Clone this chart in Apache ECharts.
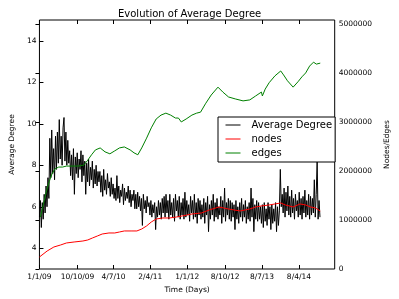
<!DOCTYPE html>
<html>
<head>
<meta charset="utf-8">
<script src="https://cdn.jsdelivr.net/npm/echarts@6/dist/echarts.min.js"></script>
<style>html,body{margin:0;padding:0;background:#fff;}#c{width:399px;height:299px;}</style>
</head>
<body>
<div id="c"></div>
<script>
// X axis ticks (days since 1/1/09) and labels
const xTickDays = [0, 282, 549, 821, 1095, 1376, 1649, 1923];
const xTickLabels = ['1/1/09', '10/10/09', '4/7/10', '2/4/11', '1/1/12', '8/10/12', '8/7/13', '8/4/14'];
const leftTicks = [4, 6, 8, 10, 12, 14];
const rightTicks = [0, 1000000, 2000000, 3000000, 4000000, 5000000];

// Average degree, sampled every 7 days from day 0
const avgStepDays = 7;
const avgDegree = [
  5.5, 6.3, 5.0, 6.2, 5.4,
  6.6, 5.7, 7.0, 6.0, 7.4, 6.4,
  9.3, 7.4, 9.7, 7.6, 8.8, 7.3, 9.4, 7.8,
  9.6, 8.1, 10.2, 8.3, 9.4, 8.0, 9.8, 10.3, 8.2, 9.6, 8.0, 9.2,
  8.1, 8.7, 7.5, 8.5, 7.3, 8.8, 6.6, 8.4, 7.6, 8.6, 7.4, 8.3, 7.8, 8.7, 7.2, 8.5, 7.5, 8.2,
  6.6, 8.1, 7.2, 8.3, 7.0, 7.9, 7.3, 8.2, 6.9, 7.8, 7.1, 8.0, 7.0, 7.7, 7.2,
  7.7, 6.7, 7.5, 6.5, 7.8, 6.8, 7.3, 6.6, 7.6, 6.9, 7.2, 6.5, 7.4, 6.6, 7.1, 6.4,
  6.9, 6.3, 7.5, 6.4, 7.0, 6.2, 6.8, 6.5, 7.1, 6.1, 6.9, 6.3, 6.7, 6.4, 7.0, 6.2, 6.8, 6.0, 6.6, 6.3, 6.8,
  5.9, 6.6, 5.9, 6.7, 6.0, 6.5, 5.8, 6.4, 5.1, 6.6, 5.9, 6.3, 5.7, 6.5, 6.0, 6.2,
  5.6, 6.3, 5.5, 6.1, 5.7, 6.2, 4.9, 6.0, 5.5, 6.3, 5.6, 6.2, 5.4, 6.4, 5.7,
  6.5, 5.5, 6.6, 5.7, 6.3, 5.4, 6.6, 5.6, 6.2, 5.5, 6.4, 5.3, 6.6, 5.8, 6.3, 5.5, 6.5, 5.4, 6.2, 5.6,
  6.4, 5.4, 6.7, 5.5, 6.3, 5.6, 6.1, 5.3, 6.5, 5.7, 6.3, 5.4, 6.6, 5.5, 6.2, 5.2, 6.4, 5.6, 6.3, 5.4, 6.1,
  5.5, 6.4, 5.2, 6.2, 5.6, 6.5, 4.8, 6.1, 5.4, 6.3, 5.6, 6.6, 5.3, 6.2, 5.5, 6.4, 5.4, 6.0, 5.6, 6.5,
  5.2, 6.3, 5.5, 6.9, 5.3, 6.2, 5.6, 6.4, 5.4, 6.3,
  5.3, 6.2, 5.5, 6.1, 4.9, 6.3, 5.4, 6.0, 5.2, 6.2, 5.5, 6.4, 5.3, 6.1, 5.5, 6.3, 5.2, 6.0, 5.4, 6.2,
  5.3, 6.9, 5.5, 6.4, 4.8, 6.1, 5.4, 6.3, 5.3, 6.2, 5.4, 6.0,
  5.2, 6.1, 5.0, 6.2, 5.3, 5.9, 5.1, 6.2, 5.4, 6.0, 4.9, 6.1, 5.2, 5.9, 5.3, 6.2, 4.8, 6.0, 5.1, 5.8,
  7.8, 6.0,
  6.6, 5.7, 6.9, 5.5, 6.7, 5.8, 7.0, 5.6, 6.5, 5.5, 6.8, 5.7, 6.4, 5.4, 6.6, 5.8, 6.3, 5.5, 6.7, 5.6,
  6.4, 5.4, 6.5, 5.7, 6.8, 5.5, 6.3, 5.6, 6.6, 5.4, 6.5, 5.6, 6.4, 5.7, 7.3, 5.5, 6.6, 8.2, 5.4, 6.3, 5.5
];

// Nodes (right axis)
const nodeDays = [0, 57, 107, 157, 200, 257, 322, 358, 393, 429, 465, 515, 558, 593, 629, 679, 722, 758, 794, 829, 865, 915, 965, 1015, 1058, 1130, 1201, 1258, 1330, 1401, 1487, 1559, 1602, 1645, 1702, 1745, 1788, 1823, 1880, 1931, 1973, 2009, 2045, 2081];
const nodeCounts = [245000, 367000, 449000, 490000, 531000, 551000, 571000, 592000, 633000, 673000, 714000, 735000, 735000, 755000, 776000, 776000, 776000, 816000, 878000, 959000, 1020000, 1041000, 1041000, 1061000, 1082000, 1122000, 1143000, 1204000, 1265000, 1224000, 1184000, 1224000, 1265000, 1286000, 1306000, 1327000, 1347000, 1306000, 1265000, 1327000, 1306000, 1265000, 1245000, 1184000];

// Edges (right axis)
const edgeDays = [7, 29, 50, 72, 93, 114, 143, 172, 200, 243, 286, 329, 358, 386, 415, 450, 486, 522, 558, 593, 629, 672, 701, 729, 758, 794, 829, 865, 901, 937, 972, 1008, 1030, 1051, 1087, 1130, 1165, 1194, 1230, 1273, 1323, 1359, 1401, 1451, 1509, 1559, 1602, 1645, 1652, 1673, 1702, 1745, 1788, 1809, 1838, 1880, 1916, 1945, 1973, 2002, 2031, 2052, 2066, 2081];
const edgeCounts = [1060000, 1310000, 1570000, 1780000, 1940000, 2040000, 2080000, 2080000, 2100000, 2100000, 2100000, 2120000, 2220000, 2330000, 2430000, 2470000, 2390000, 2350000, 2410000, 2470000, 2490000, 2430000, 2370000, 2330000, 2470000, 2670000, 2880000, 3060000, 3140000, 3180000, 3140000, 3080000, 3080000, 3000000, 3060000, 3140000, 3180000, 3200000, 3370000, 3550000, 3710000, 3610000, 3510000, 3470000, 3430000, 3450000, 3530000, 3610000, 3530000, 3670000, 3800000, 3940000, 4040000, 3960000, 3840000, 3710000, 3820000, 3920000, 4000000, 4140000, 4220000, 4180000, 4140000, 4200000];

const FONT = 'DejaVu Sans';
const avgData = avgDegree.map((v, i) => [i * avgStepDays, v]);
const nodeData = nodeDays.map((d, i) => [d, nodeCounts[i]]);
const edgeData = edgeDays.map((d, i) => [d, edgeCounts[i]]);

const chart = echarts.init(document.getElementById('c'), null, {renderer: 'canvas'});
const labelStyle = {fontSize: 7.5, fontFamily: FONT, color: '#000'};
chart.setOption({
  animation: false,
  backgroundColor: '#fff',
  title: {
    text: 'Evolution of Average Degree',
    left: 113, top: 4,
    textStyle: {fontSize: 10, fontFamily: FONT, fontWeight: 'normal', color: '#000'}
  },
  grid: {left: 32, right: 61, top: 20, bottom: 30, show: true, borderColor: '#000', borderWidth: 1, containLabel: false},
  legend: {
    orient: 'vertical', left: 218, top: 117,
    padding: [3, 3, 4, 7], itemWidth: 15, itemHeight: 10, itemGap: 4,
    backgroundColor: '#fff', borderColor: '#000', borderWidth: 1, borderRadius: 0,
    itemStyle: {opacity: 0},
    lineStyle: {width: 1, opacity: 1},
    textStyle: {fontSize: 10, fontFamily: FONT, color: '#000', padding: [0, 0, 0, 6]},
    data: ['Average Degree', 'nodes', 'edges']
  },
  xAxis: [{
    type: 'value', min: 0, max: 2188, position: 'bottom',
    name: 'Time (Days)', nameLocation: 'middle', nameGap: 12,
    nameTextStyle: labelStyle,
    axisLine: {show: false},
    splitLine: {show: false},
    axisTick: {show: true, inside: true, length: 4, lineStyle: {color: '#000'}, customValues: xTickDays},
    axisLabel: {show: true, margin: 4, ...labelStyle, customValues: xTickDays,
      formatter: v => { const k = xTickDays.indexOf(v); return k >= 0 ? xTickLabels[k] : ''; }}
  }, {
    type: 'value', min: 0, max: 2188, position: 'top',
    axisLine: {show: false}, splitLine: {show: false},
    axisTick: {show: true, inside: true, length: 4, lineStyle: {color: '#000'}, customValues: xTickDays},
    axisLabel: {show: false}
  }],
  yAxis: [{
    type: 'value', min: 3, max: 15, position: 'left',
    name: 'Average Degree', nameLocation: 'middle', nameGap: 16, nameRotate: 90,
    nameTextStyle: labelStyle,
    axisLine: {show: false}, splitLine: {show: false},
    axisTick: {show: true, inside: true, length: 4, lineStyle: {color: '#000'}, customValues: leftTicks},
    axisLabel: {margin: 3, ...labelStyle, customValues: leftTicks}
  }, {
    type: 'value', min: 0, max: 5080000, position: 'right',
    name: 'Nodes/Edges', nameLocation: 'middle', nameGap: 45, nameRotate: 90,
    nameTextStyle: labelStyle,
    axisLine: {show: false}, splitLine: {show: false},
    axisTick: {show: true, inside: true, length: 4, lineStyle: {color: '#000'}, customValues: rightTicks},
    axisLabel: {margin: 4, ...labelStyle, customValues: rightTicks, formatter: v => String(v)}
  }],
  series: [{
    name: 'Average Degree', type: 'line', xAxisIndex: 0, yAxisIndex: 0,
    data: avgData, symbol: 'none', sampling: null,
    lineStyle: {color: '#000', width: 1}, itemStyle: {color: '#000'}
  }, {
    name: 'nodes', type: 'line', xAxisIndex: 0, yAxisIndex: 1,
    data: nodeData, symbol: 'none', smooth: false,
    lineStyle: {color: '#ff0000', width: 1}, itemStyle: {color: '#ff0000'}
  }, {
    name: 'edges', type: 'line', xAxisIndex: 0, yAxisIndex: 1,
    data: edgeData, symbol: 'none',
    lineStyle: {color: '#008000', width: 1}, itemStyle: {color: '#008000'}
  }]
});
</script>
</body>
</html>
